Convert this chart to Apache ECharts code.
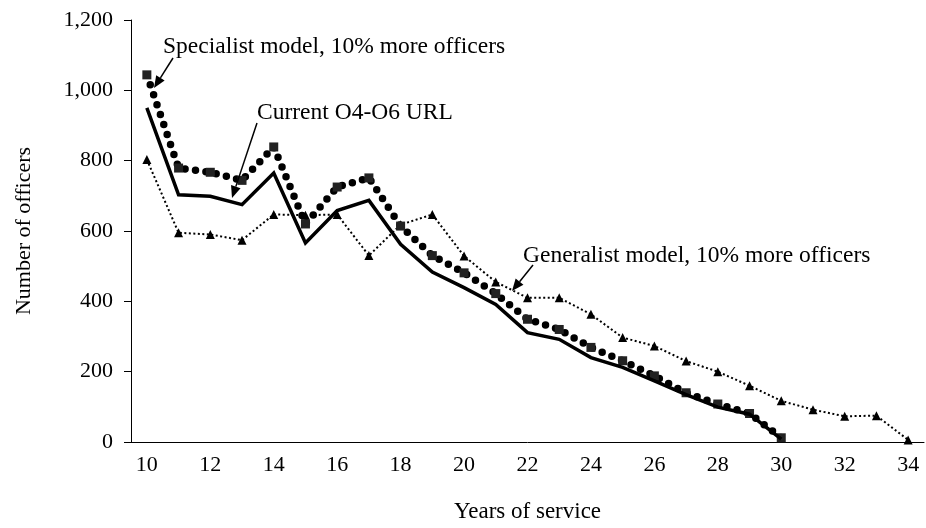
<!DOCTYPE html>
<html>
<head>
<meta charset="utf-8">
<title>Number of officers by years of service</title>
<script src="https://cdn.jsdelivr.net/npm/echarts@6/dist/echarts.min.js"></script>
<style>
  html, body { margin: 0; padding: 0; background: #fff; }
  #main { width: 926px; height: 528px; }
</style>
</head>
<body>
<div id="main"></div>
<script>
// 数据
const years = ["10", "11", "12", "13", "14", "15", "16", "17", "18", "19", "20", "21",
  "22", "23", "24", "25", "26", "27", "28", "29", "30", "31", "32", "33", "34"];
const current = [950, 703, 699, 675, 765, 566, 658, 687, 562, 483, 439, 391,
  311, 292, 240, 212, 174, 135, 99, 79, 8];
const specialist = [1044, 779, 767, 744, 839, 620, 725, 751, 614, 530, 481, 422,
  349, 320, 269, 231, 188, 140, 108, 81, 12];
const generalist = [803, 595, 590, 574, 647, 645, 647, 530, 618, 647, 529, 455,
  410, 410, 363, 297, 273, 230, 200, 160, 117, 92, 73, 75, 6];
const yTicks = { min: 0, max: 1200, interval: 200 };

const FONT = "Liberation Serif";

// 箭头：直线 + 三角形箭头
function arrow (x1, y1, x2, y2) {
  const a = Math.atan2(y2 - y1, x2 - x1);
  const len = 12, half = 5;
  const bx = x2 - len * Math.cos(a), by = y2 - len * Math.sin(a);
  const px = -Math.sin(a) * half, py = Math.cos(a) * half;
  return [
    { type: "line", shape: { x1: x1, y1: y1, x2: bx, y2: by },
      style: { stroke: "#000", lineWidth: 1.5 }, z: 10 },
    { type: "polygon", shape: { points: [[x2, y2], [bx + px, by + py], [bx - px, by - py]] },
      style: { fill: "#000" }, z: 10 }
  ];
}

function label (text, x, y) {
  return { type: "text", x: x, y: y, z: 10,
    style: { text: text, fill: "#000", font: "23.5px '" + FONT + "'", textVerticalAlign: "middle" } };
}

let myChart = echarts.init(document.getElementById("main"));
let option = {
  animation: false,
  backgroundColor: "#fff",
  textStyle: { fontFamily: FONT, color: "#000" },
  grid: { left: 131, right: 2, top: 20, bottom: 85 },
  xAxis: {
    type: "category",
    data: years,
    boundaryGap: true,
    name: "Years of service",
    nameLocation: "middle",
    nameGap: 58,
    nameTextStyle: { fontFamily: FONT, fontSize: 23, color: "#000" },
    axisLine: { lineStyle: { color: "#000", width: 1 } },
    axisTick: { interval: 1, length: 6, lineStyle: { color: "#000" } },
    axisLabel: { interval: 1, margin: 12, fontFamily: FONT, fontSize: 22, color: "#000" },
    splitLine: { show: false }
  },
  yAxis: {
    type: "value",
    min: yTicks.min,
    max: yTicks.max,
    interval: yTicks.interval,
    name: "Number of officers",
    nameLocation: "middle",
    nameGap: 96,
    nameTextStyle: { fontFamily: FONT, fontSize: 22, color: "#000" },
    axisLine: { show: true, lineStyle: { color: "#000", width: 1 } },
    axisTick: { show: true, length: 7, lineStyle: { color: "#000" } },
    axisLabel: { margin: 18, fontFamily: FONT, fontSize: 22, color: "#000",
      formatter: v => v.toLocaleString("en-US") },
    splitLine: { show: false }
  },
  series: [
    {
      name: "Generalist model, 10% more officers",
      type: "line",
      data: generalist,
      symbol: "triangle",
      symbolSize: 9,
      itemStyle: { color: "#000" },
      lineStyle: { color: "#000", width: 2, type: [2, 2.5] },
      z: 2
    },
    {
      name: "Specialist model, 10% more officers",
      type: "line",
      data: specialist,
      symbol: "rect",
      symbolSize: 9,
      itemStyle: { color: "#222" },
      lineStyle: { color: "#000", width: 7.5, type: [0, 10.5], cap: "round" },
      z: 3
    },
    {
      name: "Current O4-O6 URL",
      type: "line",
      data: current,
      symbol: "none",
      lineStyle: { color: "#000", width: 3.5, join: "miter" },
      z: 4
    }
  ],
  graphic: [
    label("Specialist model, 10% more officers", 163, 47),
    label("Current O4-O6 URL", 257, 113),
    label("Generalist model, 10% more officers", 523, 256),
    ...arrow(173, 58, 154, 88),
    ...arrow(257, 123, 232, 198),
    ...arrow(533, 265, 512, 291)
  ]
};
myChart.setOption(option);
</script>
</body>
</html>
